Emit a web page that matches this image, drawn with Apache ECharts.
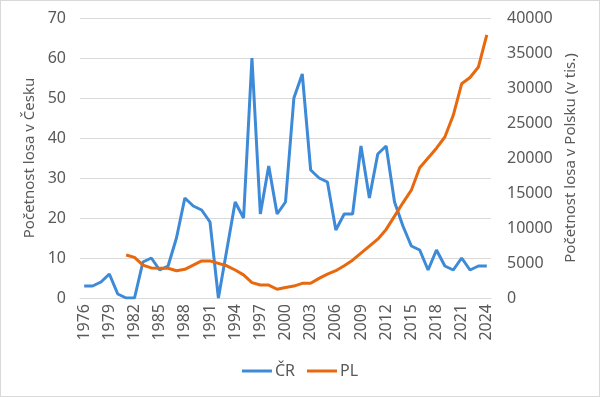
<!DOCTYPE html>
<html>
<head>
<meta charset="utf-8">
<script src="https://cdn.jsdelivr.net/npm/echarts@6/dist/echarts.min.js"></script>
<style>
  html, body { margin: 0; padding: 0; background: #fff; }
  #chart { width: 598px; height: 395px; border: 1px solid #d9d9d9; }
</style>
</head>
<body>
<div id="chart"></div>
<script>
// roky 1976 - 2024
var years = [];
for (var y = 1976; y <= 2024; y++) years.push(String(y));

// Česko (počet kusů)
var crValues = [3, 3, 4, 6, 1, 0, 0, 9, 10, 7, 8, 15, 25, 23, 22, 19, 0, 12, 24, 20, 60,
  21, 33, 21, 24, 50, 56, 32, 30, 29, 17, 21, 21, 38, 25, 36, 38, 24, 18, 13, 12,
  7, 12, 8, 7, 10, 7, 8, 8];

// Polsko (v tis.), data od 1981
var plValues = [null, null, null, null, null,
  6150, 5800, 4700, 4300, 4250, 4250, 3900, 4100, 4700, 5300, 5300, 4950, 4600, 4000,
  3300, 2200, 1850, 1850, 1250, 1500, 1700, 2100, 2100, 2800, 3400, 3900, 4600, 5400,
  6400, 7400, 8400, 9800, 11700, 13600, 15400, 18600, 20000, 21400, 23000, 26100,
  30600, 31500, 33000, 37600];

var txt = '#595959';
var font = 'Noto Sans';

var myChart = echarts.init(document.getElementById('chart'));
var option = {
  animation: false,
  textStyle: { fontFamily: font, color: txt },
  grid: { left: 79, right: 108, top: 17, bottom: 98 },
  legend: {
    bottom: 12,
    left: 'center',
    icon: 'rect',
    itemWidth: 30,
    itemHeight: 3,
    itemGap: 12,
    textStyle: { fontSize: 16, color: txt, fontFamily: font, padding: [0, 0, 0, -2] },
    data: ['ČR', 'PL']
  },
  xAxis: {
    type: 'category',
    data: years,
    boundaryGap: true,
    axisTick: { show: false },
    axisLine: { lineStyle: { color: '#d9d9d9' } },
    axisLabel: { interval: 2, rotate: 90, fontSize: 16, color: txt, margin: 6 }
  },
  yAxis: [
    {
      type: 'value',
      min: 0, max: 70, interval: 10,
      name: 'Početnost losa v Česku',
      nameLocation: 'middle',
      nameGap: 40,
      nameTextStyle: { fontSize: 15, color: txt },
      axisLabel: { fontSize: 16, color: txt, margin: 14 },
      splitLine: { lineStyle: { color: '#d9d9d9' } }
    },
    {
      type: 'value',
      min: 0, max: 40000, interval: 5000,
      name: 'Početnost losa v Polsku (v tis.)',
      nameLocation: 'middle',
      nameGap: 68,
      nameRotate: 90,
      nameTextStyle: { fontSize: 15, color: txt },
      axisLabel: { fontSize: 16, color: txt, margin: 16, formatter: function (v) { return String(v); } },
      splitLine: { show: false }
    }
  ],
  series: [
    {
      name: 'ČR',
      type: 'line',
      yAxisIndex: 0,
      data: crValues,
      symbol: 'none',
      lineStyle: { width: 3, color: '#3C8AD8' },
      itemStyle: { color: '#3C8AD8' }
    },
    {
      name: 'PL',
      type: 'line',
      yAxisIndex: 1,
      data: plValues,
      symbol: 'none',
      lineStyle: { width: 3, color: '#E8680E' },
      itemStyle: { color: '#E8680E' }
    }
  ]
};
myChart.setOption(option);
</script>
</body>
</html>
